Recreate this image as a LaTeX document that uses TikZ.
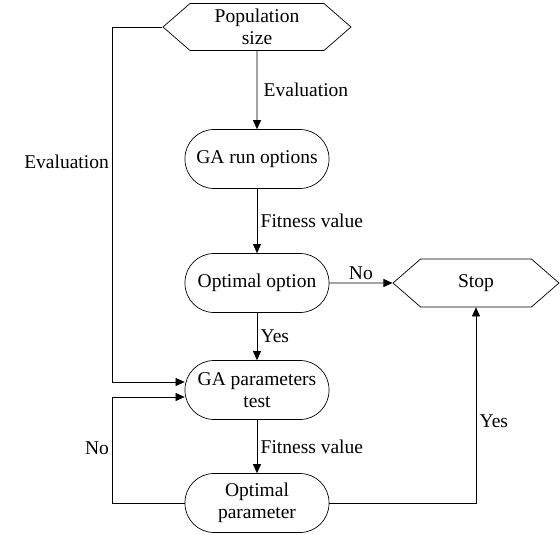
\documentclass[tikz,border=0pt]{standalone}
\usepackage{fontspec}
\setmainfont{Liberation Serif}
\usetikzlibrary{arrows.meta,shapes.symbols,positioning}

\begin{document}
\begin{tikzpicture}[->,>={Triangle[length=9pt,width=8pt]},auto,line width=0.7pt,
    font=\fontsize{19.5}{22}\selectfont,
    box/.style={draw,rounded corners=29pt,minimum width=144pt,minimum height=59pt,align=center},
    hexa/.style={draw,signal,signal to=west and east,signal pointer angle=82,align=center}]

        \node[hexa,minimum width=188pt,minimum height=47pt] (popsize)
            {Population\\size};

        \node[box] (garun) [below of=popsize, node distance=132pt]
            {GA run options};

        \node[box] (optoption) [below of=garun, node distance=124pt]
            {Optimal option};

        \node[hexa,minimum width=166pt,minimum height=48pt] (stop) [right of=optoption, node distance=219pt]
            {Stop};

        \node[box] (gaparam) [below of=optoption, node distance=107pt]
            {GA parameters\\test};

        \node[box] (optparam) [below of=gaparam, node distance=113pt]
            {Optimal\\parameter};

        \path[use as bounding box] (-257pt,27pt) rectangle (303pt,-508pt);

        \path
        (popsize)   edge    node[right,xshift=3pt] {Evaluation} (garun)
        (garun)     edge    node[right] {Fitness value} (optoption)
        (optoption) edge    node[above] {No} (stop)
                    edge    node[right] {Yes} (gaparam)
        (gaparam)   edge    node[right] {Fitness value} (optparam)
        ;

        % feedback lines
        \draw (popsize.west) -- ++(-50pt,0) |- node[pos=0.19,left] {Evaluation} ([yshift=8pt]gaparam.west);
        \draw (optparam.west) -- ++(-72pt,0) |- node[pos=0.26,left] {No} ([yshift=-7pt]gaparam.west);
        \draw (optparam.east) -| node[pos=0.71,right] {Yes} (stop.south);
    \end{tikzpicture}
\end{document}
